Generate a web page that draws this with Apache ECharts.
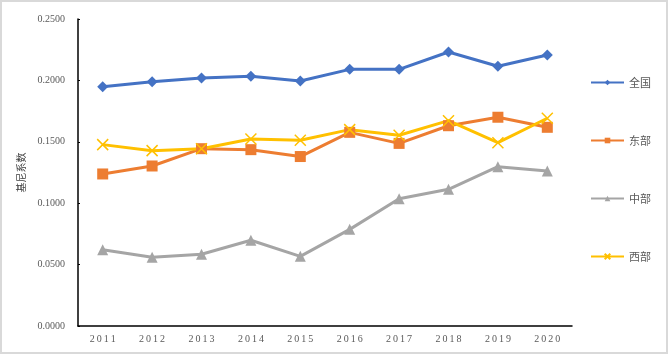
<!DOCTYPE html>
<html>
<head>
<meta charset="utf-8">
<title>基尼系数</title>
<script src="https://cdn.jsdelivr.net/npm/echarts@6/dist/echarts.min.js"></script>
<style>
  html, body { margin: 0; padding: 0; background: #fff; }
  #chart { width: 668px; height: 354px; }
</style>
</head>
<body>
<div id="chart"></div>
<script>
// 年份
var years = ['2011', '2012', '2013', '2014', '2015', '2016', '2017', '2018', '2019', '2020'];
// 各地区基尼系数
var quanguo = [0.1949, 0.1989, 0.2020, 0.2033, 0.1995, 0.2090, 0.2090, 0.2231, 0.2115, 0.2207];
var dongbu = [0.1238, 0.1303, 0.1444, 0.1436, 0.1380, 0.1577, 0.1487, 0.1631, 0.1700, 0.1618];
var zhongbu = [0.0621, 0.0559, 0.0584, 0.0698, 0.0567, 0.0787, 0.1037, 0.1113, 0.1297, 0.1262];
var xibu = [0.1477, 0.1428, 0.1444, 0.1523, 0.1512, 0.1599, 0.1553, 0.1672, 0.1493, 0.1692];

var serif = '"Liberation Serif", "DejaVu Serif", serif';
var cjk = '"Noto Sans CJK SC", "Noto Sans", sans-serif';

function lineSeries(name, data, color, symbol, size) {
  return {
    name: name,
    type: 'line',
    data: data,
    symbol: symbol,
    symbolSize: size,
    showAllSymbol: true,
    lineStyle: { color: color, width: 3 },
    itemStyle: { color: color, borderColor: color, borderWidth: symbol.indexOf('path://') === 0 ? 1.5 : 0 },
    emphasis: { disabled: true }
  };
}

var myChart = echarts.init(document.getElementById('chart'));
var option = {
  animation: false,
  backgroundColor: '#fff',
  graphic: [
    {
      type: 'rect',
      shape: { x: 1, y: 1, width: 666, height: 352 },
      style: { fill: null, stroke: '#d9d9d9', lineWidth: 2 },
      silent: true
    }
  ],
  grid: { left: 78, right: 96, top: 19, bottom: 28 },
  legend: {
    orient: 'vertical',
    left: 585,
    top: 72,
    itemWidth: 33,
    itemHeight: 7,
    itemGap: 47,
    textStyle: { color: '#595959', fontSize: 11, fontFamily: cjk },
    data: ['全国', '东部', '中部', '西部']
  },
  xAxis: {
    type: 'category',
    data: years,
    boundaryGap: true,
    axisLine: { lineStyle: { color: '#000', width: 1.5 } },
    axisTick: { inside: true, length: 3, lineStyle: { color: '#000', width: 1.5 } },
    axisLabel: {
      color: '#595959',
      fontSize: 10,
      fontFamily: serif,
      margin: 8,
      formatter: function (v) { return v.split('').join('\u2009'); }
    }
  },
  yAxis: {
    type: 'value',
    min: 0,
    max: 0.25,
    interval: 0.05,
    name: '基尼系数',
    nameLocation: 'middle',
    nameRotate: 90,
    nameGap: 40,
    nameTextStyle: { color: '#404040', fontSize: 10, fontFamily: cjk },
    axisLine: { show: true, lineStyle: { color: '#000', width: 1.5 } },
    axisTick: { show: true, inside: true, length: 2, lineStyle: { color: '#000' } },
    splitLine: { show: false },
    axisLabel: {
      color: '#595959',
      fontSize: 10,
      fontFamily: serif,
      margin: 13,
      formatter: function (v) { return v.toFixed(4); }
    }
  },
  series: [
    lineSeries('全国', quanguo, '#4472C4', 'diamond', 11),
    lineSeries('东部', dongbu, '#ED7D31', 'rect', 11),
    lineSeries('中部', zhongbu, '#A5A5A5', 'triangle', 11),
    lineSeries('西部', xibu, '#FFC000', 'path://M0,0L10,10M10,0L0,10', 11)
  ]
};
myChart.setOption(option);
</script>
</body>
</html>
